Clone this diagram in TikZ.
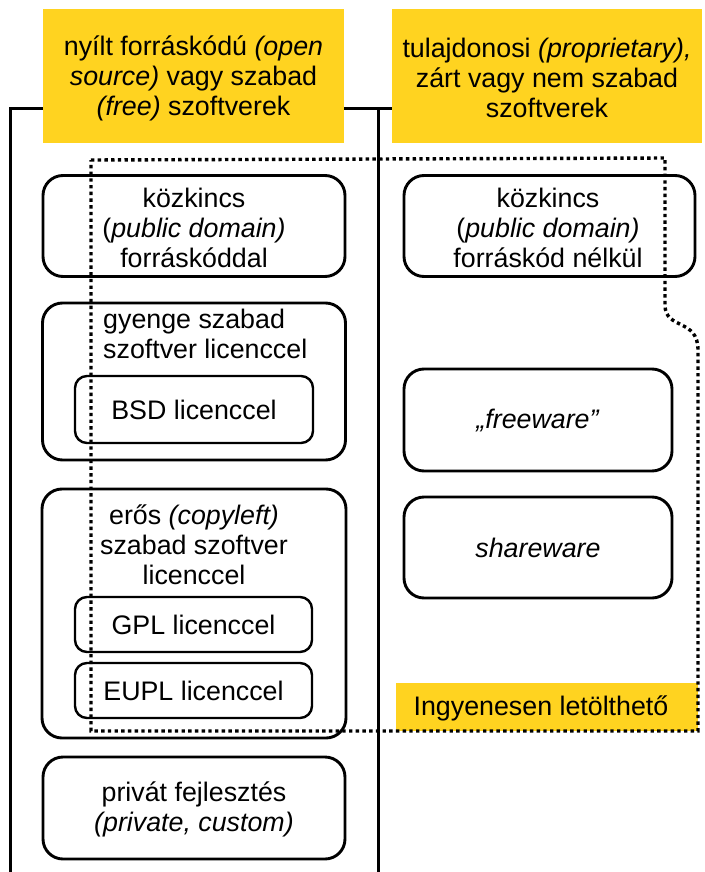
\documentclass[tikz,border=0pt]{standalone}
\usepackage{fontspec}
\setmainfont{Liberation Sans}
\definecolor{hdr}{RGB}{255,211,32}
\begin{document}
\begin{tikzpicture}[x=1pt,y=-1pt,
  txt/.style={font=\fontsize{26.8}{30}\selectfont, align=center, inner sep=0pt},
  hbox/.style={fill=hdr, draw=none, inner sep=0pt},
  obox/.style={draw, line width=2.9pt, rounded corners=20pt, inner sep=0pt},
  ibox/.style={draw, line width=2.4pt, rounded corners=12pt, inner sep=0pt},
  bracket/.style={line width=3pt},
  dots/.style={line width=3.4pt, dash pattern=on 3.4pt off 3.3pt}
]
\useasboundingbox (0,0) rectangle (704,872);
% headers
\node[hbox, minimum width=301pt, minimum height=134pt] (lh) at (193.5,76) {};
\node[txt] (lht) at (193.5,78) {nyílt forráskódú \textit{(open}\\\textit{source)} vagy szabad\\\textit{(free)} szoftverek};
\node[hbox, minimum width=310pt, minimum height=134pt] (rh) at (547,76) {};
\node[txt] (rht) at (547,78) {tulajdonosi \textit{(proprietary),}\\zárt vagy nem szabad\\szoftverek};
% brackets
\coordinate (lj) at ([yshift=35pt]lh.south west);
\coordinate (rj) at ([yshift=35pt]lh.south east);
\coordinate (rhj) at ([yshift=35pt]rh.south west);
\coordinate (lbot) at (10,872);
\coordinate (rbot) at (378,872);
\draw[bracket] (lj) -- (lbot |- lj) -- (lbot);
\draw[bracket] (rj) -- (rhj);
\draw[bracket] (rbot |- rj) -- (rbot);
% free download highlight
\node[hbox, minimum width=302pt, minimum height=48pt] (ing) at (547,707) {};
\node[txt] (ingt) at (541,708) {Ingyenesen letölthető};
% left column boxes
\node[obox, minimum width=302pt, minimum height=101pt] (pd1) at (194,226) {};
\node[txt] (pd1t) at (194,228) {közkincs\\(\textit{public domain)}\\forráskóddal};
\node[obox, minimum width=303pt, minimum height=157pt] (weak) at (194,381.5) {};
\node[txt, align=left, anchor=north west] (weakt) at (103,309) {gyenge szabad\\szoftver licenccel};
\node[ibox, txt, minimum width=238pt, minimum height=67pt] (bsd) at (194,409.5) {BSD licenccel};
\node[obox, minimum width=304pt, minimum height=249pt] (strong) at (194,613.5) {};
\node[txt] (strongt) at (194,545) {erős \textit{(copyleft)}\\szabad szoftver\\licenccel};
\node[ibox, txt, minimum width=237pt, minimum height=55pt] (gpl) at (193.5,624.5) {GPL licenccel};
\node[ibox, txt, minimum width=237pt, minimum height=55pt] (eupl) at (193.5,690.5) {EUPL licenccel};
\node[obox, minimum width=302pt, minimum height=102pt] (priv) at (194,808) {};
\node[txt] (privt) at (194,809) {privát fejlesztés\\\textit{(private, custom)}};
% right column boxes
\node[obox, minimum width=291pt, minimum height=101pt] (pd2) at (549.5,226) {};
\node[txt] (pd2t) at (548,228) {közkincs\\(\textit{public domain)}\\forráskód nélkül};
\node[obox, txt, minimum width=268pt, minimum height=102pt] (free) at (538,420) {\textit{„freeware”}};
\node[obox, txt, minimum width=268pt, minimum height=101pt] (share) at (538,547.5) {\textit{shareware}};
% dotted region
\draw[dots] (91,160) -- (665,158) -- (665,305) .. controls (665,330) and (698,318) .. (698,350) -- (698,731) -- (91,731) -- cycle;
\end{tikzpicture}
\end{document}
